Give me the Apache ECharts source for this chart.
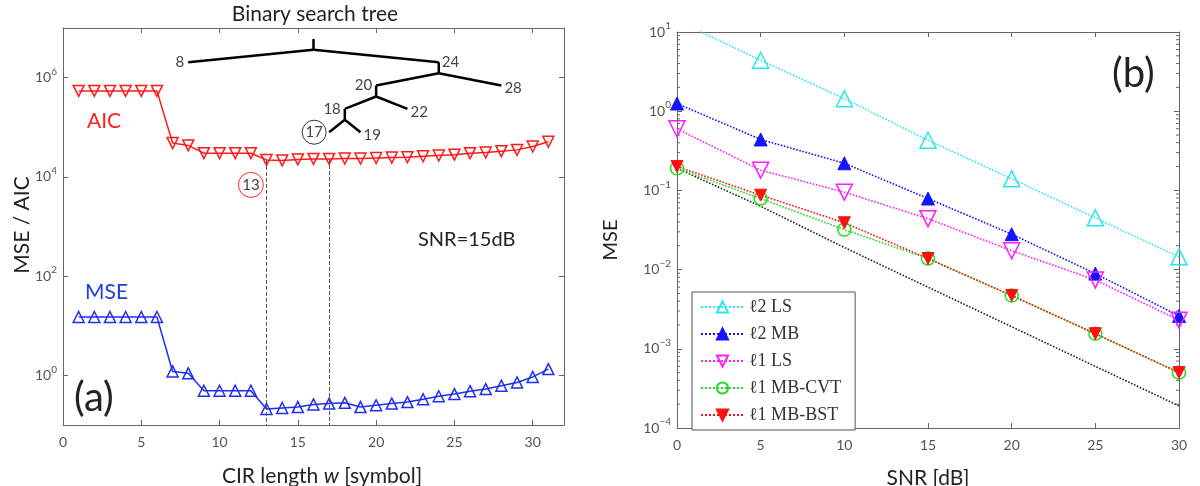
<!DOCTYPE html>
<html>
<head>
<meta charset="utf-8">
<script src="https://cdn.jsdelivr.net/npm/echarts@6/dist/echarts.min.js"></script>
<style>
html, body { margin: 0; padding: 0; background: #fff; }
#chart { width: 1200px; height: 486px; }
</style>
</head>
<body>
<div id="chart"></div>
<script type="text/javascript">
  // ---- (a) MSE / AIC against CIR length ----
  const cirLen = [1, 2, 3, 4, 5, 6, 7, 8, 9, 10, 11, 12, 13, 14, 15, 16, 17, 18, 19, 20, 21, 22, 23, 24, 25, 26, 27, 28, 29, 30, 31]
  const aicVals = [5.4e5, 5.4e5, 5.4e5, 5.4e5, 5.4e5, 5.4e5, 4.8e4, 4.3e4, 3.0e4, 3.0e4, 3.0e4, 3.0e4,
    2.2e4, 2.15e4, 2.25e4, 2.3e4, 2.3e4, 2.35e4, 2.35e4, 2.4e4, 2.45e4, 2.5e4, 2.6e4, 2.7e4, 2.8e4,
    3.0e4, 3.1e4, 3.3e4, 3.5e4, 4.1e4, 5.1e4]
  const mseVals = [15, 15, 15, 15, 15, 15, 1.2, 1.1, 0.49, 0.49, 0.49, 0.49,
    0.21, 0.22, 0.23, 0.26, 0.27, 0.28, 0.23, 0.25, 0.27, 0.29, 0.33, 0.38, 0.42,
    0.48, 0.53, 0.62, 0.72, 0.93, 1.34]
  const aicBestW = 13
  const bstBestW = 17

  // binary search tree drawn over panel (a)
  const treeKeys = [16, 8, 24, 20, 28, 18, 22, 17, 19]
  const treeDepth = [0, 1, 1, 2, 2, 3, 3, 4, 4]
  const treeParent = [null, 16, 16, 24, 24, 20, 20, 18, 18]

  // ---- (b) MSE against SNR ----
  const snrDb = [0, 5, 10, 15, 20, 25, 30]
  const l2Ls = [14, 4.4, 1.44, 0.43, 0.14, 0.045, 0.0145]
  const l2Mb = [1.25, 0.44, 0.22, 0.079, 0.028, 0.0089, 0.0026]
  const l1Ls = [0.6, 0.18, 0.095, 0.044, 0.0173, 0.0074, 0.0023]
  const l1Cvt = [0.19, 0.079, 0.032, 0.0138, 0.0047, 0.00155, 0.0005]
  const l1Bst = [0.2, 0.087, 0.039, 0.0138, 0.0047, 0.00155, 0.0005]
  const bound = [0.19, 0.063, 0.019, 0.006, 0.0019, 0.0006, 0.00019]

  const SANS = 'Lato'
  const SERIF = 'Liberation Serif'
  const TICK = '#555'

  const zip = (xs, ys) => xs.map((x, i) => [x, ys[i]])

  function powLabel(v) {
    const e = Math.round(Math.log10(v))
    return '{b|10}{s|' + String(e).replace('-', '\u2212') + '}'
  }
  const powRich = {
    b: { fontSize: 14, color: TICK, fontFamily: SANS, lineHeight: 22, verticalAlign: 'middle' },
    s: { fontSize: 10, color: TICK, fontFamily: SANS, lineHeight: 10, verticalAlign: 'top' }
  }

  function xAx(grid, max, pos) {
    return {
      type: 'value', gridIndex: grid, min: 0, max: max, interval: 5, position: pos,
      axisLine: { show: true, onZero: false, lineStyle: { color: '#666', width: 1 } },
      axisTick: { show: true, inside: true, length: 5, lineStyle: { color: '#666' } },
      axisLabel: { show: pos === 'bottom', color: TICK, fontSize: 14, fontFamily: SANS, margin: 10, showMaxLabel: max % 5 === 0 },
      splitLine: { show: false }
    }
  }
  function yAx(grid, min, max, base, pos) {
    return {
      type: 'log', logBase: base, gridIndex: grid, min: min, max: max, position: pos,
      axisLine: { show: true, onZero: false, lineStyle: { color: '#666', width: 1 } },
      axisTick: { show: true, inside: true, length: 5, lineStyle: { color: '#666' } },
      axisLabel: {
        show: pos === 'left', formatter: powLabel, rich: powRich, margin: 6,
        showMinLabel: base === 10, showMaxLabel: base === 10
      },
      splitLine: { show: false }
    }
  }

  // annotation layout for the tree (placed on panel a's axes)
  const levelExp = (d) => 6.78 - 0.47 * d
  const stubExp = 0.22

  function renderTree(params, api) {
    const i = params.dataIndex
    const key = treeKeys[i]
    const d = treeDepth[i]
    const p = treeParent[i]
    const hasKids = treeParent.indexOf(key) >= 0
    const top = api.coord([key, Math.pow(10, levelExp(d))])
    const els = []
    const line = (a, b) => ({
      type: 'line', shape: { x1: a[0], y1: a[1], x2: b[0], y2: b[1] },
      style: { stroke: '#000', lineWidth: 2.5 }
    })
    if (hasKids) {
      els.push(line(top, api.coord([key, Math.pow(10, levelExp(d) - stubExp)])))
    }
    if (p !== null) {
      const pd = treeDepth[treeKeys.indexOf(p)]
      els.push(line(api.coord([p, Math.pow(10, levelExp(pd) - stubExp)]), top))
      const left = key < p
      let tx = top[0] + (left ? -4 : 3)
      let ty = top[1] + (!hasKids && !left ? 3 : 0)
      if (key === bstBestW) {
        tx = top[0] - 15
        els.push({
          type: 'circle', shape: { cx: tx, cy: ty, r: 12 },
          style: { fill: '#fff', stroke: '#333', lineWidth: 1 }
        })
      }
      els.push({
        type: 'text',
        style: {
          text: String(key), x: tx, y: ty,
          align: key === bstBestW ? 'center' : (left ? 'right' : 'left'),
          verticalAlign: 'middle',
          fill: '#444', font: '15px ' + SANS
        }
      })
    }
    return { type: 'group', children: els }
  }

  // minor decade ticks of panel (b)
  function renderMinor(params, api) {
    const els = []
    for (let e = -4; e < 1; e++) {
      for (let k = 2; k < 10; k++) {
        const v = k * Math.pow(10, e)
        const l = api.coord([0, v])
        const r = api.coord([30, v])
        els.push({ type: 'line', shape: { x1: l[0], y1: l[1], x2: l[0] + 3, y2: l[1] }, style: { stroke: '#666', lineWidth: 1 } })
        els.push({ type: 'line', shape: { x1: r[0], y1: r[1], x2: r[0] - 3, y2: r[1] }, style: { stroke: '#666', lineWidth: 1 } })
      }
    }
    return { type: 'group', children: els }
  }

  function openSym(color) {
    return { color: 'rgba(255,255,255,0)', borderColor: color, borderWidth: 1.5 }
  }
  function snrSeries(name, vals, color, symbol, size, filled, rotate) {
    return {
      name: name, type: 'line', xAxisIndex: 2, yAxisIndex: 2,
      data: zip(snrDb, vals),
      symbol: symbol, symbolSize: size, symbolRotate: rotate || 0, showAllSymbol: true,
      lineStyle: { color: color, width: 1.6, type: 'dotted' },
      itemStyle: filled ? { color: color, borderColor: color, borderWidth: 1 } : openSym(color),
      z: 3
    }
  }

  const text = (str, x, y, size, color) => ({
    type: 'text', x: x, y: y, z: 50,
    style: { text: str, fill: color || '#222', font: size + 'px ' + SANS, align: 'left', verticalAlign: 'middle' }
  })

  const myChart = echarts.init(document.getElementById('chart'))
  const option = {
    animation: false,
    backgroundColor: '#fff',
    grid: [
      { left: 63, right: 636, top: 28, bottom: 61, show: false },
      { left: 677, right: 21, top: 32, bottom: 58, show: false }
    ],
    xAxis: [xAx(0, 32, 'bottom'), xAx(0, 32, 'top'), xAx(1, 30, 'bottom'), xAx(1, 30, 'top')],
    yAxis: [yAx(0, 0.1, 1e7, 100, 'left'), yAx(0, 0.1, 1e7, 100, 'right'),
      yAx(1, 1e-4, 10, 10, 'left'), yAx(1, 1e-4, 10, 10, 'right')],
    legend: {
      data: ['\u21132 LS', '\u21132 MB', '\u21131 LS', '\u21131 MB-CVT', '\u21131 MB-BST'],
      orient: 'vertical', left: 692, top: 292,
      backgroundColor: '#fff', borderColor: '#555', borderWidth: 1,
      padding: [6, 14, 6, 8], itemGap: 9, itemWidth: 43, itemHeight: 14,
      textStyle: { fontFamily: SERIF, fontSize: 18, color: '#333' },
      selectedMode: false
    },
    series: [
      {
        name: 'AIC', type: 'line', xAxisIndex: 0, yAxisIndex: 0,
        data: zip(cirLen, aicVals),
        symbol: 'triangle', symbolRotate: 180, symbolSize: 11, showAllSymbol: true,
        lineStyle: { color: '#ff1a1a', width: 1.5 },
        itemStyle: openSym('#ff1a1a'),
        markLine: {
          silent: true, symbol: ['none', 'none'],
          lineStyle: { color: '#555', type: 'dashed', width: 1 },
          label: { show: false },
          data: [
            [{ coord: [aicBestW, aicVals[aicBestW - 1]] }, { coord: [aicBestW, 0.1] }],
            [{ coord: [bstBestW, aicVals[bstBestW - 1]] }, { coord: [bstBestW, 0.1] }]
          ]
        },
        markPoint: {
          silent: true, symbol: 'circle', symbolSize: 25,
          itemStyle: { color: '#fff', borderColor: '#ff2a2a', borderWidth: 1 },
          label: { show: true, color: '#444', fontSize: 15, fontFamily: SANS, formatter: String(aicBestW) },
          data: [{ coord: [aicBestW - 1, 6900] }]
        }
      },
      {
        name: 'MSE', type: 'line', xAxisIndex: 0, yAxisIndex: 0,
        data: zip(cirLen, mseVals),
        symbol: 'triangle', symbolSize: 11, showAllSymbol: true,
        lineStyle: { color: '#1f2ff0', width: 1.5 },
        itemStyle: openSym('#1f2ff0')
      },
      {
        name: 'tree', type: 'custom', xAxisIndex: 0, yAxisIndex: 0,
        data: treeKeys.map((k, i) => [k, Math.pow(10, levelExp(treeDepth[i]))]),
        renderItem: renderTree, silent: true, z: 4
      },
      {
        name: 'minor', type: 'custom', xAxisIndex: 2, yAxisIndex: 2,
        data: [[0, 1]], renderItem: renderMinor, silent: true
      },
      {
        name: 'bound', type: 'line', xAxisIndex: 2, yAxisIndex: 2,
        data: zip(snrDb, bound), symbol: 'none',
        lineStyle: { color: '#222', width: 1.6, type: 'dotted' }, z: 2
      },
      snrSeries('\u21132 LS', l2Ls, '#2ae6ee', 'triangle', 16, false),
      snrSeries('\u21132 MB', l2Mb, '#1414ff', 'triangle', 13, true),
      snrSeries('\u21131 LS', l1Ls, '#ff1cff', 'triangle', 16, false, 180),
      snrSeries('\u21131 MB-CVT', l1Cvt, '#22dd22', 'circle', 13, false),
      snrSeries('\u21131 MB-BST', l1Bst, '#ff1010', 'triangle', 12, true, 180)
    ],
    graphic: [
      {
        type: 'text', x: 315, y: 14, z: 50,
        style: { text: 'Binary search tree', fill: '#222', font: '21px ' + SANS, align: 'center', verticalAlign: 'middle' }
      },
      text('AIC', 87, 121, 21, '#ff2020'),
      text('MSE', 85, 292, 21, '#1f3fe0'),
      text('SNR=15dB', 418, 240, 20, '#222'),
      text('(a)', 74, 398, 40, '#222'),
      text('(b)', 1112, 74, 40, '#222'),
      {
        type: 'text', x: 22, y: 225, rotation: Math.PI / 2, z: 50,
        style: { text: 'MSE / AIC', fill: '#222', font: '21px ' + SANS, align: 'center', verticalAlign: 'middle' }
      },
      {
        type: 'text', x: 611, y: 240, rotation: Math.PI / 2, z: 50,
        style: { text: 'MSE', fill: '#222', font: '20px ' + SANS, align: 'center', verticalAlign: 'middle' }
      },
      {
        type: 'text', x: 322, y: 476, z: 50,
        style: {
          text: 'CIR length {i|w} [symbol]', fill: '#222', font: '21px ' + SANS, align: 'center', verticalAlign: 'middle',
          rich: { i: { fontStyle: 'italic', fontSize: 21, fontFamily: SANS, fill: '#222' } }
        }
      },
      {
        type: 'text', x: 928, y: 478, z: 50,
        style: { text: 'SNR [dB]', fill: '#222', font: '21px ' + SANS, align: 'center', verticalAlign: 'middle' }
      }
    ]
  }
  myChart.setOption(option)
</script>
</body>
</html>
